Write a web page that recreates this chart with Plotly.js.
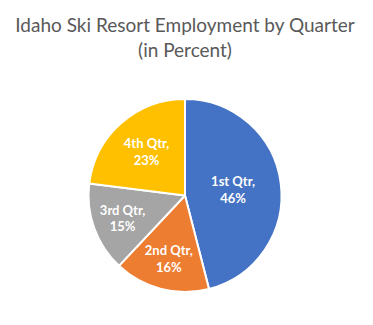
<!DOCTYPE html>
<html><head><meta charset="utf-8">
<script src="https://cdn.plot.ly/plotly-3.0.1.min.js"></script>
<style>html,body{margin:0;padding:0;background:#fff}#chart{width:373px;height:325px}</style>
</head><body><div id="chart"></div>
<script>
const categories = ["1st Qtr", "2nd Qtr", "3rd Qtr", "4th Qtr"];
const values = [46, 16, 15, 23];
const colors = ["#4472C4", "#ED7D31", "#A5A5A5", "#FFC000"];

const trace = {
  type: "pie",
  labels: categories,
  values: values,
  sort: false,
  direction: "clockwise",
  rotation: 0,
  marker: {colors: colors, line: {color: "#ffffff", width: 2}},
  texttemplate: "%{label},<br>%{value}%",
  textposition: "inside",
  insidetextorientation: "horizontal",
  insidetextfont: {family: "Lato, sans-serif", size: 13, color: "#ffffff", weight: "bold"},
  hoverinfo: "none",
  showlegend: false
};
const layout = {
  width: 373, height: 325,
  margin: {l: 88, r: 91, t: 99, b: 33},
  paper_bgcolor: "#ffffff",
  title: {text: "Idaho Ski Resort Employment by Quarter<br>(in Percent)",
    font: {family: "Lato, sans-serif", size: 19, color: "#595959"},
    x: 0.5, xanchor: "center", xref: "paper", y: 0.902, yanchor: "middle", yref: "container"},
  showlegend: false
};
Plotly.newPlot("chart", [trace], layout, {displayModeBar: false, staticPlot: true});
</script></body></html>
